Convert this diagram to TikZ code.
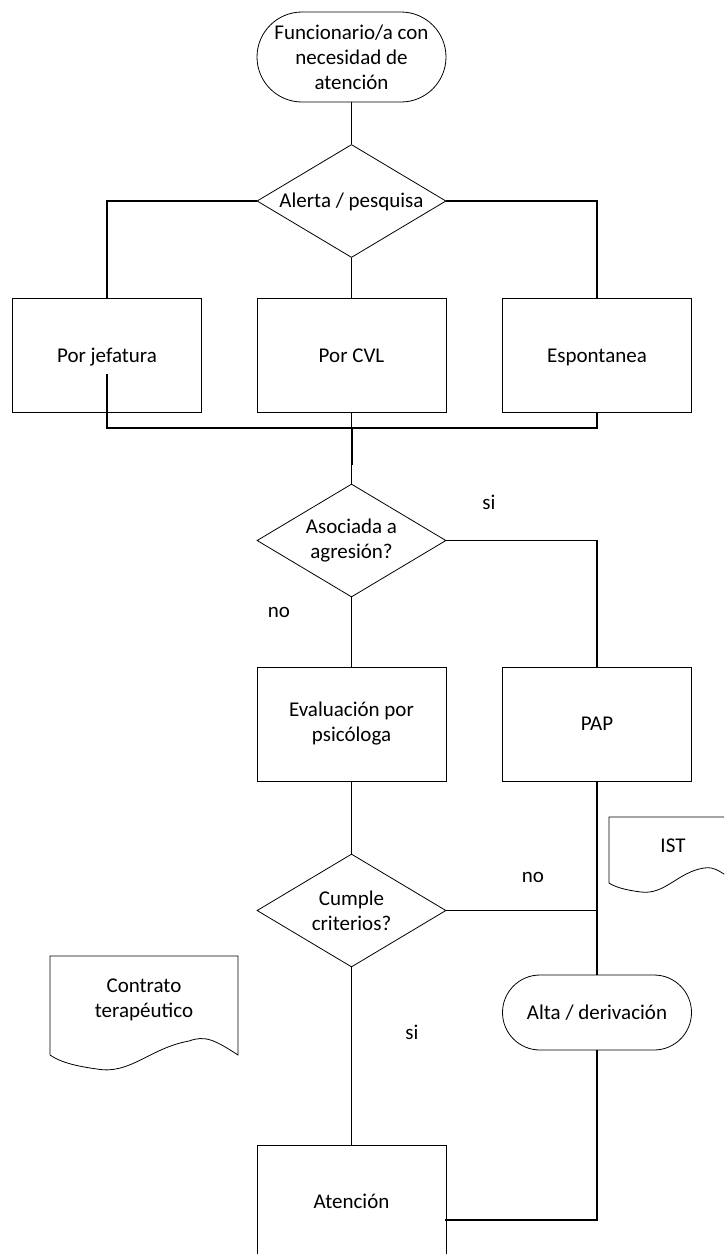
\documentclass[tikz,border=0pt]{standalone}
\usepackage{fontspec}
\setmainfont{Carlito}
\usetikzlibrary{shapes.geometric}
\begin{document}
\begin{tikzpicture}[x=1pt,y=-1pt,
  every node/.style={font=\fontsize{21}{25}\selectfont, align=center},
  one/.style={text height=13.5pt, text depth=0pt},
  shp/.style={draw, line width=0.8pt},
  term/.style={shp, rectangle, rounded corners=#1, minimum width=189pt, inner sep=0pt},
  proc/.style={shp, rectangle, minimum width=189pt, minimum height=114pt, inner sep=0pt},
  dec/.style={shp, diamond, aspect=1.67, minimum width=189pt, minimum height=113pt, inner sep=0pt},
  conn/.style={line width=1.2pt},
  thick conn/.style={line width=2pt},
  lbl/.style={inner sep=0pt, one}
]
\useasboundingbox (0,0) rectangle (724,1254);
\clip (0,0) rectangle (724,1254);

% nodes
\node[term=45pt, minimum height=90pt] (start) at (351.5,57) {Funcionario/a con\\necesidad de\\atención};
\node[dec, one] (d1) at (351.5,201) {Alerta / pesquisa};
\node[proc, one] (b1) at (107,355.5) {Por jefatura};
\node[proc, one] (b2) at (351.5,355.5) {Por CVL};
\node[proc, one] (b3) at (597,355.5) {Espontanea};
\node[dec] (d2) at (351.5,540.5) {Asociada a\\agresión?};
\node[proc] (eval) at (351.5,724) {Evaluación por\\psicóloga};
\node[proc, one] (pap) at (597,724) {PAP};
\node[dec] (d3) at (351.5,910.5) {Cumple\\criterios?};
\node[term=37.5pt, minimum height=75pt, one] (alta) at (597,1012.5) {Alta / derivación};
\node[proc, one] (aten) at (351.5,1202) {Atención};

% documents
\draw[shp] (50,956) -- (238,956) -- (238,1055)
  .. controls (215,1040) and (205,1035) .. (189,1041)
  .. controls (150,1048) and (130,1075) .. (97,1069)
  .. controls (75,1066) and (60,1062) .. (50,1055) -- cycle;
\node (contr) at (144,1000) {Contrato\\terapéutico};
\draw[shp] (609,817) -- (737,817) -- (737,883)
  .. controls (722,873) and (715,866) .. (704,868)
  .. controls (678,872) and (665,895) .. (641,892)
  .. controls (625,890) and (615,887) .. (609,883) -- cycle;
\node[one] (ist) at (673,846) {IST};

% labels
\node[lbl] (lsi1) at (489,503) {si};
\node[lbl] (lno1) at (279,611) {no};
\node[lbl] (lno2) at (533,876) {no};
\node[lbl] (lsi2) at (412,1033) {si};

% connectors
\coordinate (j) at (107,374);
\coordinate (bus) at (351.5,428);
\coordinate (busl) at (351.5,465);
\coordinate (ae) at (445,1220);
\coordinate (mj) at (597,955);
\draw[conn] (start.south) -- (d1.north);
\draw[conn] (d1.west) -| (b1.north);
\draw[conn] (d1.south) -- (b2.north);
\draw[conn] (d1.east) -| (b3.north);
\draw[conn] (j) |- (bus);
\draw[conn] (b3.south) |- (bus);
\draw[conn] (b2.south) -- (d2.north);
\draw[thick conn] (bus) -- (busl);
\draw[conn] (d2.east) -| (pap.north);
\draw[conn] (d2.south) -- (eval.north);
\draw[conn] (eval.south) -- (d3.north);
\draw[conn] (d3.east) -- (d3.east -| pap.south);
\draw[conn] (pap.south) -- (alta.north);
\draw[thick conn] (d3.east -| pap.south) -- (mj);
\draw[conn] (d3.south) -- (aten.north);
\draw[conn] (alta.south) |- (ae);
\end{tikzpicture}
\end{document}
